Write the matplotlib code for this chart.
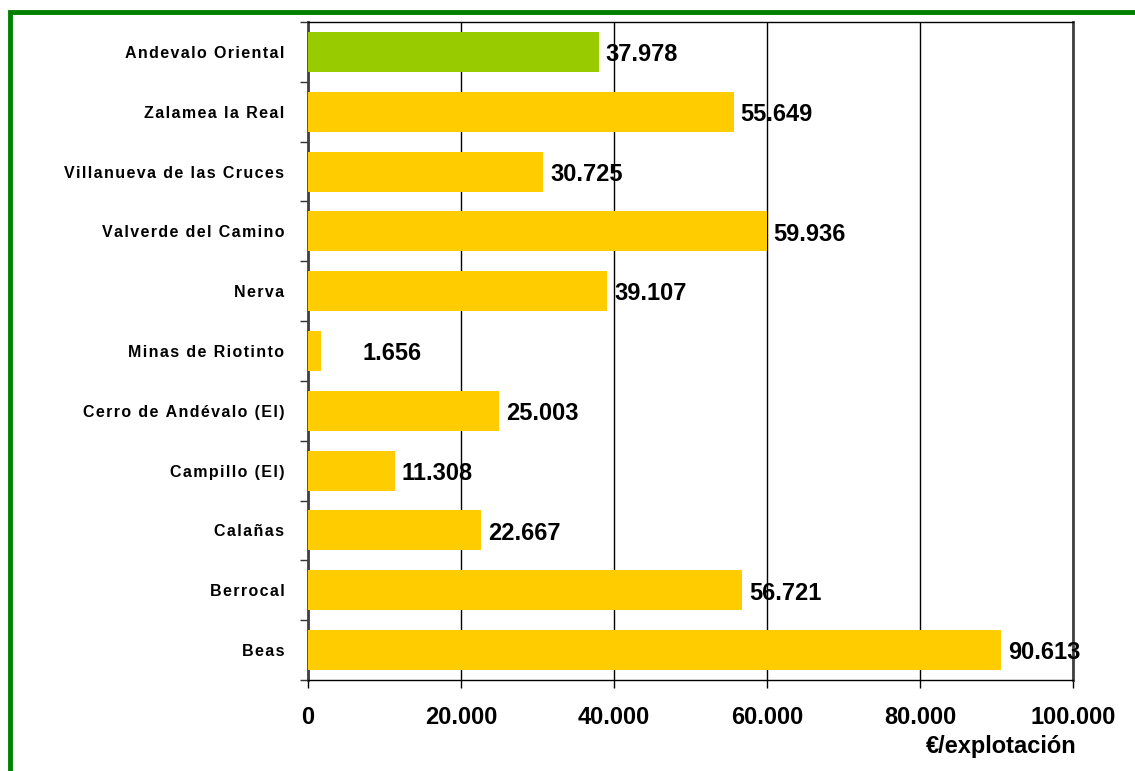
import numpy as np
from matplotlib import pyplot as plt
from matplotlib.patches import Rectangle

# data, bottom to top
municipios = ["Beas", "Berrocal", "Calañas", "Campillo (El)", "Cerro de Andévalo (El)",
              "Minas de Riotinto", "Nerva", "Valverde del Camino",
              "Villanueva de las Cruces", "Zalamea la Real", "Andevalo Oriental"]
valores = [90613, 56721, 22667, 11308, 25003, 1656, 39107, 59936, 30725, 55649, 37978]
colores = ["#FFCC00"] * 10 + ["#99CC00"]
xticks = [0, 20000, 40000, 60000, 80000, 100000]

def fmt(v):
    return f"{v:,}".replace(",", ".")

# the original has letter-spaced category labels
def espaciar(s):
    return "\u200a".join(s)

plt.rcParams['font.family'] = ['Liberation Sans', 'DejaVu Sans']

fig = plt.figure(figsize=(11.35, 7.71), dpi=100)
ax = fig.add_axes([308/1135, 1-680/771, 765/1135, 658/771])

# green frame (only left and top visible)
fig.patches.append(Rectangle((9.5/1135, -0.05), 1.2, 1 - 12/771 + 0.05, transform=fig.transFigure,
                             fill=False, edgecolor="#008000", linewidth=3.5))

y = np.arange(len(municipios))
ax.barh(y, valores, height=0.67, color=colores, zorder=3)

for i, v in enumerate(valores):
    off = 5
    if municipios[i] == "Minas de Riotinto":
        off = 30
    ax.annotate(fmt(v), (v, i), xytext=(off, -2), textcoords="offset points",
                ha="left", va="center", fontsize=17, fontweight="bold", zorder=4)

ax.set_xlim(0, 100000)
ax.set_ylim(-0.5, len(municipios) - 0.5)
ax.set_xticks(xticks)
ax.set_xticklabels([fmt(t) for t in xticks], fontsize=17, fontweight="bold")
ax.grid(axis="x", color="black", linewidth=1, zorder=1)

ax.set_yticks(y)
ax.set_yticklabels([espaciar(m) for m in municipios], fontsize=11.5, fontweight="bold")
ax.set_yticks(np.arange(len(municipios) + 1) - 0.5, minor=True)
ax.tick_params(axis="y", which="major", length=0, pad=17)
ax.tick_params(axis="y", which="minor", length=6, width=1, color="#333333")
ax.tick_params(axis="x", length=6, width=1, pad=13)

for s in ["top", "bottom"]:
    ax.spines[s].set_linewidth(1)
    ax.spines[s].set_color("black")
ax.spines["left"].set_linewidth(2)
ax.spines["left"].set_color("#404040")
ax.spines["right"].set_linewidth(2)
ax.spines["right"].set_color("#404040")

fig.text(1077/1135, 1-746/771, "€/explotación", ha="right", va="center",
         fontsize=17, fontweight="bold")

fig.savefig("out.png", dpi=100)
